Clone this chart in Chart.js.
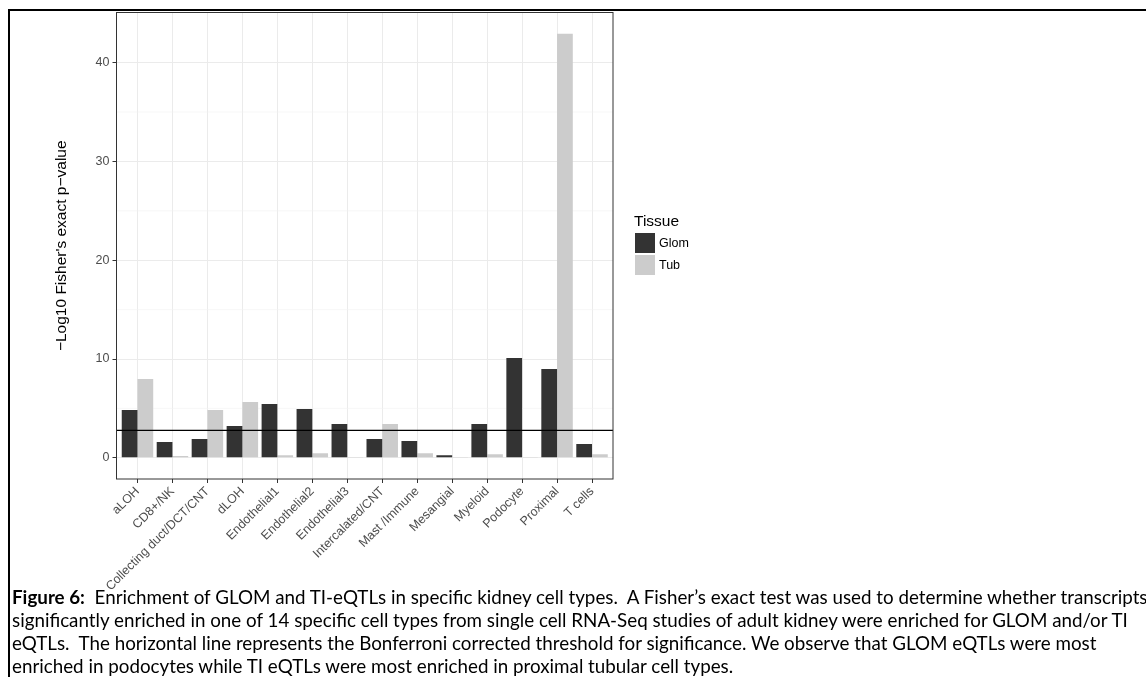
<!DOCTYPE html>
<html>
<head>
<meta charset="utf-8">
<title>Enrichment of GLOM and TI eQTLs in kidney cell types</title>
<script src="https://cdn.jsdelivr.net/npm/chart.js@4.4.1/dist/chart.umd.min.js"></script>
<style>
  html, body { margin: 0; padding: 0; background: #fff; overflow: hidden; }
  #wrap { position: relative; width: 1146px; height: 677px; overflow: hidden; }
  #chart { position: absolute; left: 0; top: 0; }
  #frame { position: absolute; left: 8px; top: 9px; width: 1200px; height: 700px;
           border-left: 2px solid #000; border-top: 2px solid #000; pointer-events: none; }
  #caption { position: absolute; left: 12px; top: 585px; white-space: pre;
             font-family: Lato, "Open Sans", "Liberation Sans", sans-serif;
             font-size: 18.8px; line-height: 23px; color: #000; }
</style>
</head>
<body>
<div id="wrap">
  <canvas id="chart" width="1146" height="677"></canvas>
  <div id="frame"></div>
  <div id="caption"><b>Figure 6:</b>  Enrichment of GLOM and TI-eQTLs in specific kidney cell types.  A Fisher’s exact test was used to determine whether transcripts
significantly enriched in one of 14 specific cell types from single cell RNA-Seq studies of adult kidney were enriched for GLOM and/or TI
eQTLs.  The horizontal line represents the Bonferroni corrected threshold for significance. We observe that GLOM eQTLs were most
enriched in podocytes while TI eQTLs were most enriched in proximal tubular cell types.</div>
</div>
<script>
// Cell types (x categories)
const categories = [
  'aLOH', 'CD8+/NK', 'Collecting duct/DCT/CNT', 'dLOH', 'Endothelial1', 'Endothelial2',
  'Endothelial3', 'Intercalated/CNT', 'Mast /Immune', 'Mesangial', 'Myeloid',
  'Podocyte', 'Proximal', 'T cells'
];
// -log10 Fisher's exact p-value per tissue
const glom = [4.83, 1.59, 1.89, 3.21, 5.44, 4.93, 3.41, 1.89, 1.69, 0.27, 3.41, 10.1, 8.99, 1.39];
const tub  = [7.97, 0.17, 4.83, 5.64, 0.27, 0.47, 0.07, 3.41, 0.47, 0.07, 0.37, 0.07, 42.93, 0.37];
// Bonferroni corrected significance threshold (-log10 scale)
const bonferroni = 2.77;
// Axis breaks
const yTicks = [0, 10, 20, 30, 40];
const yMinorTicks = [5, 15, 25, 35];
const seriesNames = ['Glom', 'Tub'];
const seriesColors = ['#333333', '#cccccc'];

// Continuous limits padded by 5% of the data range, discrete limits by 0.6 of a category
const dataMax = Math.max(...glom, ...tub);
const yMin = -0.05 * dataMax;
const yMax = dataMax * 1.05;

const FONT = 'Liberation Sans, Arial, Helvetica, sans-serif';

const panelPlugin = {
  id: 'panel',
  beforeDatasetsDraw(chart) {
    const { ctx, chartArea: a, scales: { y } } = chart;
    ctx.save();
    ctx.strokeStyle = '#f2f2f2';
    ctx.lineWidth = 0.6;
    yMinorTicks.forEach(v => {
      const py = y.getPixelForValue(v);
      ctx.beginPath(); ctx.moveTo(a.left, py); ctx.lineTo(a.right, py); ctx.stroke();
    });
    ctx.restore();
  },
  afterDatasetsDraw(chart) {
    const { ctx, chartArea: a, scales: { y } } = chart;
    ctx.save();
    // significance threshold
    const ty = y.getPixelForValue(bonferroni);
    ctx.strokeStyle = '#000';
    ctx.lineWidth = 1.2;
    ctx.beginPath(); ctx.moveTo(a.left, ty); ctx.lineTo(a.right, ty); ctx.stroke();
    // panel border
    ctx.strokeStyle = '#333333';
    ctx.lineWidth = 1;
    ctx.strokeRect(a.left, a.top, a.right - a.left, a.bottom - a.top);
    ctx.restore();
  },
  afterDraw(chart) {
    // legend: "Tissue" with one key per dataset
    const { ctx } = chart;
    ctx.save();
    ctx.fillStyle = '#000';
    ctx.textBaseline = 'middle';
    ctx.textAlign = 'left';
    ctx.font = '15.5px ' + FONT;
    ctx.fillText('Tissue', 634, 222);
    ctx.font = '12.5px ' + FONT;
    chart.data.datasets.forEach((ds, i) => {
      const top = 233 + i * 22;
      ctx.fillStyle = ds.backgroundColor;
      ctx.fillRect(635, top, 20, 20);
      ctx.fillStyle = '#000';
      ctx.fillText(ds.label, 659, top + 10.5);
    });
    ctx.restore();
  }
};

new Chart(document.getElementById('chart'), {
  type: 'bar',
  data: {
    datasets: [glom, tub].map((vals, k) => ({
      label: seriesNames[k],
      data: vals.map((v, i) => ({ x: i, y: v })),
      backgroundColor: seriesColors[k],
      borderWidth: 0,
      categoryPercentage: 0.9,
      barPercentage: 1.0
    }))
  },
  options: {
    responsive: false,
    animation: false,
    devicePixelRatio: 1,
    layout: { padding: { left: 0, right: 533, top: 12.5, bottom: 0 } },
    plugins: { legend: { display: false }, tooltip: { enabled: false } },
    scales: {
      x: {
        type: 'linear',
        min: -0.6,
        max: categories.length - 0.4,
        offset: false,
        afterBuildTicks: s => { s.ticks = categories.map((_, i) => ({ value: i })); },
        afterFit: s => { s.height = 198; },
        ticks: {
          autoSkip: false, minRotation: 45, maxRotation: 45,
          color: '#4d4d4d', font: { family: FONT, size: 12.5 }, padding: 1,
          callback: v => categories[v]
        },
        grid: { offset: false, color: '#ebebeb', lineWidth: 1, tickColor: '#333333', tickLength: 4 },
        border: { display: false }
      },
      y: {
        min: yMin,
        max: yMax,
        afterBuildTicks: s => { s.ticks = yTicks.map(v => ({ value: v })); },
        afterFit: s => { s.width = 116.5; },
        ticks: { color: '#4d4d4d', font: { family: FONT, size: 12.5 }, padding: 3 },
        grid: { color: '#ebebeb', lineWidth: 1, tickColor: '#333333', tickLength: 4 },
        border: { display: false },
        title: {
          display: true,
          text: '\u2212Log10 Fisher\'s exact p\u2212value',
          color: '#000',
          font: { family: FONT, size: 15.5 },
          padding: { top: 52.5, bottom: 0 }
        }
      }
    }
  },
  plugins: [panelPlugin]
});
</script>
</body>
</html>
